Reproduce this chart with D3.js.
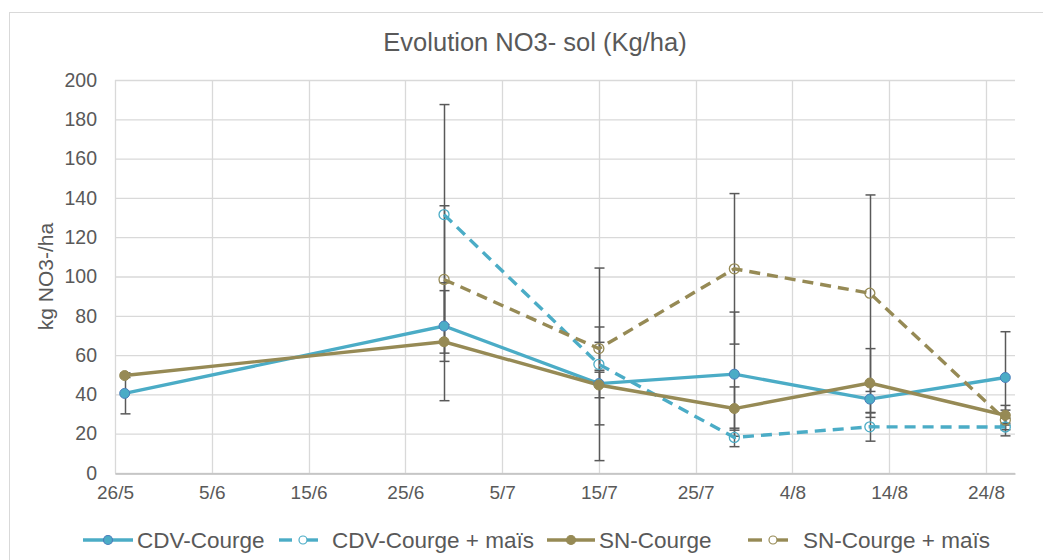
<!doctype html>
<html>
<head>
<meta charset="utf-8">
<script src="https://d3js.org/d3.v7.min.js"></script>
<style>
body { margin:0; background:#fff; }
text { font-family: "Liberation Sans", Arial, sans-serif; fill:#595959; }
</style>
</head>
<body>
<script type="text/javascript">
var width = 1043;
var height = 560;

// sampling dates (day/month)
var dates = ["27/5", "29/6", "15/7", "29/7", "12/8", "26/8"];

var cdv = [40.5, 74.8, 45.5, 50.3, 37.6, 48.6];
var cdvErr = [10.4, 18, 21, 31.6, 7, 23.3];
var cdvMais = [null, 131.5, 55.3, 18.1, 23.5, 23.4];
var cdvMaisErr = [null, 56, 49, 4.7, 7.3, 4.5];
var sn = [49.6, 66.8, 44.8, 32.8, 45.8, 29.4];
var snErr = [1, 30, 6.5, 11, 17.5, 5];
var snMais = [null, 98.5, 63.3, 103.9, 91.5, 27];
var snMaisErr = [null, 37.5, 11, 38.3, 50, 5];

var seriesNames = ["CDV-Courge", "CDV-Courge + maïs", "SN-Courge", "SN-Courge + maïs"];
var yTicks = [0, 20, 40, 60, 80, 100, 120, 140, 160, 180, 200];

var blue = "#4bacc6", olive = "#968a55";

var parse = d3.timeParse("%d/%m/%Y");
var dateObjs = dates.map(function (d) { return parse(d + "/2023"); });
var start = parse("26/5/2023"), end = parse("27/8/2023");

var series = [
  {name: seriesNames[0], vals: cdv, err: cdvErr, color: blue, dash: null, open: false},
  {name: seriesNames[1], vals: cdvMais, err: cdvMaisErr, color: blue, dash: "11,7", open: true},
  {name: seriesNames[2], vals: sn, err: snErr, color: olive, dash: null, open: false},
  {name: seriesNames[3], vals: snMais, err: snMaisErr, color: olive, dash: "11,7", open: true}
];

var margin = {left: 115, right: 28, top: 80, bottom: 87};

var svg = d3.select("body").append("svg")
    .attr("width", width)
    .attr("height", height);

// chart border
svg.append("rect")
    .attr("x", 9.5).attr("y", 12.5)
    .attr("width", 1040).attr("height", 560)
    .attr("fill", "none").attr("stroke", "#d9d9d9");

var x = d3.scaleTime().domain([start, end]).range([margin.left, width - margin.right]);
var y = d3.scaleLinear().domain([0, 200]).range([height - margin.bottom, margin.top]);

var xTicks = d3.range(0, 91, 10).map(function (d) { return d3.timeDay.offset(start, d); });

// gridlines
svg.append("g").selectAll("line.h")
    .data(yTicks).enter().append("line")
    .attr("x1", x.range()[0]).attr("x2", x.range()[1])
    .attr("y1", function (d) { return y(d) + 0.5; })
    .attr("y2", function (d) { return y(d) + 0.5; })
    .attr("stroke", "#d9d9d9").attr("stroke-width", 1.3);

svg.append("g").selectAll("line.v")
    .data(xTicks).enter().append("line")
    .attr("x1", function (d) { return Math.round(x(d)) + 0.5; })
    .attr("x2", function (d) { return Math.round(x(d)) + 0.5; })
    .attr("y1", y(200)).attr("y2", y(0))
    .attr("stroke", "#d9d9d9").attr("stroke-width", 1.3);

// x axis
var xAxis = svg.append("g")
    .attr("transform", "translate(0," + (y(0) + 0.5) + ")")
    .call(d3.axisBottom(x).tickValues(xTicks).tickSize(0).tickPadding(12)
        .tickFormat(d3.timeFormat("%-d/%-m")));
xAxis.select(".domain").attr("stroke", "#bfbfbf").attr("stroke-width", 1.3);
xAxis.selectAll("text").attr("font-size", 19).attr("fill", "#595959")
    .style("font-family", "Liberation Sans, Arial, sans-serif");

// y axis
var yAxis = svg.append("g")
    .attr("transform", "translate(" + margin.left + ",0)")
    .call(d3.axisLeft(y).tickValues(yTicks).tickSize(0).tickPadding(18));
yAxis.select(".domain").remove();
yAxis.selectAll("text").attr("font-size", 19.5).attr("fill", "#595959")
    .style("font-family", "Liberation Sans, Arial, sans-serif");

// title & axis label
svg.append("text")
    .attr("x", 535).attr("y", 51)
    .attr("text-anchor", "middle")
    .attr("font-size", 25.5)
    .text("Evolution NO3- sol (Kg/ha)");

svg.append("text")
    .attr("transform", "translate(53," + ((y(0) + y(200)) / 2) + ") rotate(-90)")
    .attr("text-anchor", "middle")
    .attr("font-size", 21)
    .text("kg NO3-/ha");

// error bars
series.forEach(function (s) {
  var pts = dateObjs.map(function (d, i) { return {d: d, v: s.vals[i], e: s.err[i]}; })
      .filter(function (p) { return p.v != null; });
  var g = svg.append("g").attr("stroke", "#595959").attr("stroke-width", 1.5);
  pts.forEach(function (p) {
    var cx = Math.round(x(p.d)) + 0.5;
    g.append("line").attr("x1", cx).attr("x2", cx)
      .attr("y1", y(p.v + p.e)).attr("y2", y(p.v - p.e));
    [p.v + p.e, p.v - p.e].forEach(function (v) {
      g.append("line").attr("x1", cx - 5).attr("x2", cx + 5)
        .attr("y1", y(v)).attr("y2", y(v));
    });
  });
});

// lines
var line = d3.line()
    .defined(function (p) { return p.v != null; })
    .x(function (p) { return x(p.d); })
    .y(function (p) { return y(p.v); });

series.forEach(function (s) {
  var pts = dateObjs.map(function (d, i) { return {d: d, v: s.vals[i]}; });
  svg.append("path")
      .datum(pts)
      .attr("d", line)
      .attr("fill", "none")
      .attr("stroke", s.color)
      .attr("stroke-width", 3.4)
      .attr("stroke-dasharray", s.dash);
});

// markers
series.forEach(function (s) {
  var pts = dateObjs.map(function (d, i) { return {d: d, v: s.vals[i]}; })
      .filter(function (p) { return p.v != null; });
  svg.append("g").selectAll("circle")
      .data(pts).enter().append("circle")
      .attr("cx", function (p) { return x(p.d); })
      .attr("cy", function (p) { return y(p.v); })
      .attr("r", 5)
      .attr("fill", s.open ? "none" : s.color)
      .attr("stroke", s.open ? s.color : (s.color == blue ? "#4a7ebb" : s.color))
      .attr("stroke-width", s.open ? 1.3 : 1);
});

// legend
var legendPos = [
  {lx: 83, w: 50, mx: 108, tx: 137},
  {lx: 279, w: 39, mx: 303, tx: 332},
  {lx: 547, w: 48, mx: 571, tx: 599},
  {lx: 748, w: 40, mx: 773, tx: 803}
];
var leg = svg.append("g");
series.forEach(function (s, i) {
  var p = legendPos[i], ly = 540;
  if (s.dash) {
    // short dash, marker, short dash
    leg.append("line")
        .attr("x1", p.lx).attr("x2", p.mx - 11)
        .attr("y1", ly).attr("y2", ly)
        .attr("stroke", s.color).attr("stroke-width", 3.4);
    leg.append("line")
        .attr("x1", p.mx).attr("x2", p.lx + p.w)
        .attr("y1", ly).attr("y2", ly)
        .attr("stroke", s.color).attr("stroke-width", 3.4);
  } else {
    leg.append("line")
        .attr("x1", p.lx).attr("x2", p.lx + p.w)
        .attr("y1", ly).attr("y2", ly)
        .attr("stroke", s.color).attr("stroke-width", 3.4);
  }
  leg.append("circle")
      .attr("cx", p.mx).attr("cy", ly).attr("r", s.open ? 4 : 4.5)
      .attr("fill", s.open ? "#fff" : s.color)
      .attr("stroke", s.open ? s.color : (s.color == blue ? "#4a7ebb" : s.color))
      .attr("stroke-width", 1.2);
  leg.append("text")
      .attr("x", p.tx).attr("y", ly + 8)
      .attr("font-size", 22.5)
      .text(s.name);
});
</script>
</body>
</html>
